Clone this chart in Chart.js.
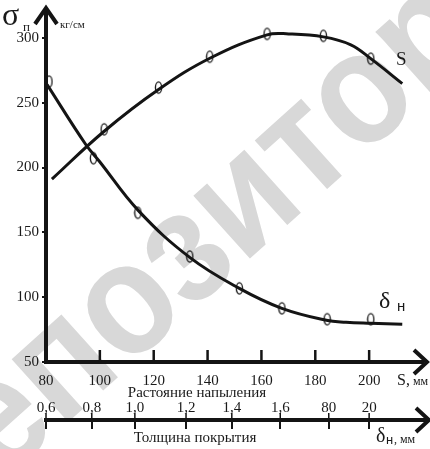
<!DOCTYPE html>
<html>
<head>
<meta charset="utf-8">
<script src="https://cdn.jsdelivr.net/npm/chart.js@4.4.1/dist/chart.umd.min.js"></script>
<style>
  html,body{margin:0;padding:0;background:#fff;}
  #wrap{width:430px;height:449px;position:relative;}
</style>
</head>
<body>
<div id="wrap"><canvas id="chart"></canvas></div>
<script>
/* ===============================
   DATA
================================ */

// S curve (прочность сцепления vs distance)
const sCurveX = [82.2, 101.6, 121.8, 141.2, 162.1, 170.1, 183.0, 193.2, 200.6, 212.3];
const sCurveY = [191.1, 228.0, 260.2, 284.7, 302.4, 303.1, 300.8, 294.7, 284.0, 264.8];
const sPointX = [101.6, 121.8, 140.8, 162.1, 183.0, 200.6];
const sPointY = [229.5, 261.7, 285.5, 303.1, 301.6, 284.0];

// δн curve
const dCurveX = [80.4, 94.7, 99.8, 114.4, 133.5, 151.8, 167.6, 184.1, 191.4, 200.6, 212.3];
const dCurveY = [264.0, 218.0, 204.9, 166.6, 130.5, 106.8, 91.4, 82.2, 80.7, 79.9, 79.1];
const dPointX = [81.1, 97.6, 114.1, 133.4, 151.8, 167.6, 184.4, 200.6];
const dPointY = [266.3, 207.2, 165.1, 131.4, 106.8, 91.4, 83.0, 83.0];

// axes
const xTicks = [80, 100, 120, 140, 160, 180, 200];
const yTicks = [50, 100, 150, 200, 250, 300];
const thickAt = [80, 97, 113, 132, 149, 167, 185, 200];
const thickLabels = ["0,6", "0,8", "1,0", "1,2", "1,4", "1,6", "80", "20"];

const INK = "#141414";
const SERIF = '"Liberation Serif", "Times New Roman", serif';

function pts(xs, ys){
  return xs.map((x, i) => ({x: x, y: ys[i]}));
}

/* oval "0" marker like the hand drawn points */
function ovalMarker(){
  const c = document.createElement("canvas");
  c.width = 9; c.height = 15;
  const g = c.getContext("2d");
  g.strokeStyle = INK;
  g.lineWidth = 1.3;
  g.beginPath();
  g.ellipse(4.5, 7.5, 3.1, 5.6, 0, 0, Math.PI * 2);
  g.stroke();
  return c;
}
const oval = ovalMarker();


/* DECORATION: watermark, arrows, titles */
const decor = {
  id: "decor",
  beforeDraw(chart){
    const c = chart.ctx;
    c.save();
    c.font = 'bold 160px "Liberation Sans", Arial, sans-serif';
    c.fillStyle = "#d8d8d8";
    const word = "репозиторий";
    const off = c.measureText("репо").width - c.measureText("о").width / 2;
    c.translate(130, 310);
    c.rotate(-42 * Math.PI / 180);
    c.scale(0.9, 1);
    c.textBaseline = "alphabetic";
    c.fillText(word, -off, 42);
    c.restore();
  },
  afterDraw(chart){
    const c = chart.ctx;
    const x = chart.scales.x, y = chart.scales.y, x2 = chart.scales.x2;
    c.save();
    c.strokeStyle = INK;
    c.lineCap = "butt";

    // upward ticks on the S axis
    c.lineWidth = 2.5;
    xTicks.forEach(v => {
      const px = x.getPixelForValue(v);
      c.beginPath();
      c.moveTo(px, x.top);
      c.lineTo(px, x.top - 12);
      c.stroke();
    });

    // thickness ticks poke a little above their line too
    c.lineWidth = 1.5;
    thickAt.forEach(v => {
      const px = x2.getPixelForValue(v);
      c.beginPath();
      c.moveTo(px, x2.top);
      c.lineTo(px, x2.top - 7);
      c.stroke();
    });

    // arrows
    c.lineWidth = 4;
    c.lineJoin = "miter";
    const yx = y.right;
    c.beginPath();
    c.moveTo(yx, y.top + 2); c.lineTo(yx, 8);
    c.stroke();
    c.beginPath();
    c.moveTo(yx - 11, 24); c.lineTo(yx, 8); c.lineTo(yx + 11, 24);
    c.stroke();

    const ax = x.top;
    c.beginPath();
    c.moveTo(414, ax - 12); c.lineTo(427, ax); c.lineTo(414, ax + 12);
    c.stroke();

    const bx = x2.top;
    c.beginPath();
    c.moveTo(x2.right - 2, bx); c.lineTo(428, bx);
    c.stroke();
    c.beginPath();
    c.moveTo(416, bx - 12); c.lineTo(429, bx); c.lineTo(416, bx + 12);
    c.stroke();

    // texts
    c.fillStyle = "#1a1a1a";
    c.textBaseline = "middle";
    c.textAlign = "center";
    c.font = "15px " + SERIF;
    c.fillText("Растояние напыления", 197, 393);
    c.fillText("Толщина покрытия", 195, 438);

    c.textAlign = "left";
    c.font = "16px " + SERIF;
    c.fillText("S,", 397, 381);
    c.font = "12px " + SERIF;
    c.fillText("мм", 413, 382);

    c.font = "20px " + SERIF;
    c.fillText("δ", 376, 437);
    c.font = '13px "Liberation Sans", sans-serif';
    c.fillText("н", 386, 440);
    c.font = "12px " + SERIF;
    c.fillText(", мм", 394, 440);

    c.font = "19px " + SERIF;
    c.fillText("S", 396, 60);
    c.font = "24px " + SERIF;
    c.fillText("δ", 379, 302);
    c.font = '15px "Liberation Sans", sans-serif';
    c.fillText("н", 397, 307);

    c.font = "32px " + SERIF;
    c.fillText("σ", 2, 17);
    c.font = "13px " + SERIF;
    c.fillText("п", 23, 28);
    c.font = "11px " + SERIF;
    c.fillText("кг/см", 60, 25);
    c.restore();
  }
};


/* CHART */
const tickFont = {family: SERIF, size: 15};

new Chart(document.getElementById("chart"), {
  type: "scatter",
  data: {
    datasets: [
      {data: pts(sCurveX, sCurveY), showLine: true, borderColor: INK, borderWidth: 3,
       pointRadius: 0, tension: 0.4, fill: false},
      {data: pts(sPointX, sPointY), showLine: false, pointStyle: oval, pointRadius: 6},
      {data: pts(dCurveX, dCurveY), showLine: true, borderColor: INK, borderWidth: 3,
       pointRadius: 0, tension: 0.4, fill: false},
      {data: pts(dPointX, dPointY), showLine: false, pointStyle: oval, pointRadius: 6}
    ]
  },
  options: {
    responsive: true,
    maintainAspectRatio: false,
    animation: false,
    devicePixelRatio: 1,
    layout: {padding: {top: 10, right: 2, left: 0, bottom: 0}},
    plugins: {legend: {display: false}, tooltip: {enabled: false}},
    scales: {
      x: {
        type: "linear", position: "bottom", weight: 0,
        min: 80, max: 220,
        afterFit: s => { s.height = 58; },
        afterBuildTicks: s => { s.ticks = xTicks.map(v => ({value: v})); },
        grid: {display: false},
        border: {display: true, width: 4, color: INK},
        ticks: {padding: 2, font: tickFont, color: "#1a1a1a", maxRotation: 0, autoSkip: false}
      },
      x2: {
        type: "linear", position: "bottom", weight: 1,
        min: 80, max: 220,
        afterFit: s => { s.height = 29; },
        afterBuildTicks: s => { s.ticks = thickAt.map(v => ({value: v})); },
        grid: {drawOnChartArea: false, drawTicks: true, tickLength: 9, lineWidth: 2, color: INK},
        border: {display: true, width: 4, color: INK},
        ticks: {mirror: true, padding: 3, font: tickFont, color: "#1a1a1a",
                maxRotation: 0, autoSkip: false,
                callback: (v, i) => thickLabels[i]}
      },
      y: {
        type: "linear", position: "left",
        min: 50, max: 320,
        afterFit: s => { s.width = 46; },
        afterBuildTicks: s => { s.ticks = yTicks.map(v => ({value: v})); },
        grid: {drawOnChartArea: false, drawTicks: true, tickLength: 4, lineWidth: 2, color: INK},
        border: {display: true, width: 4, color: INK},
        ticks: {padding: 3, font: tickFont, color: "#1a1a1a"}
      }
    }
  },
  plugins: [decor]
});
</script>
</body>
</html>
